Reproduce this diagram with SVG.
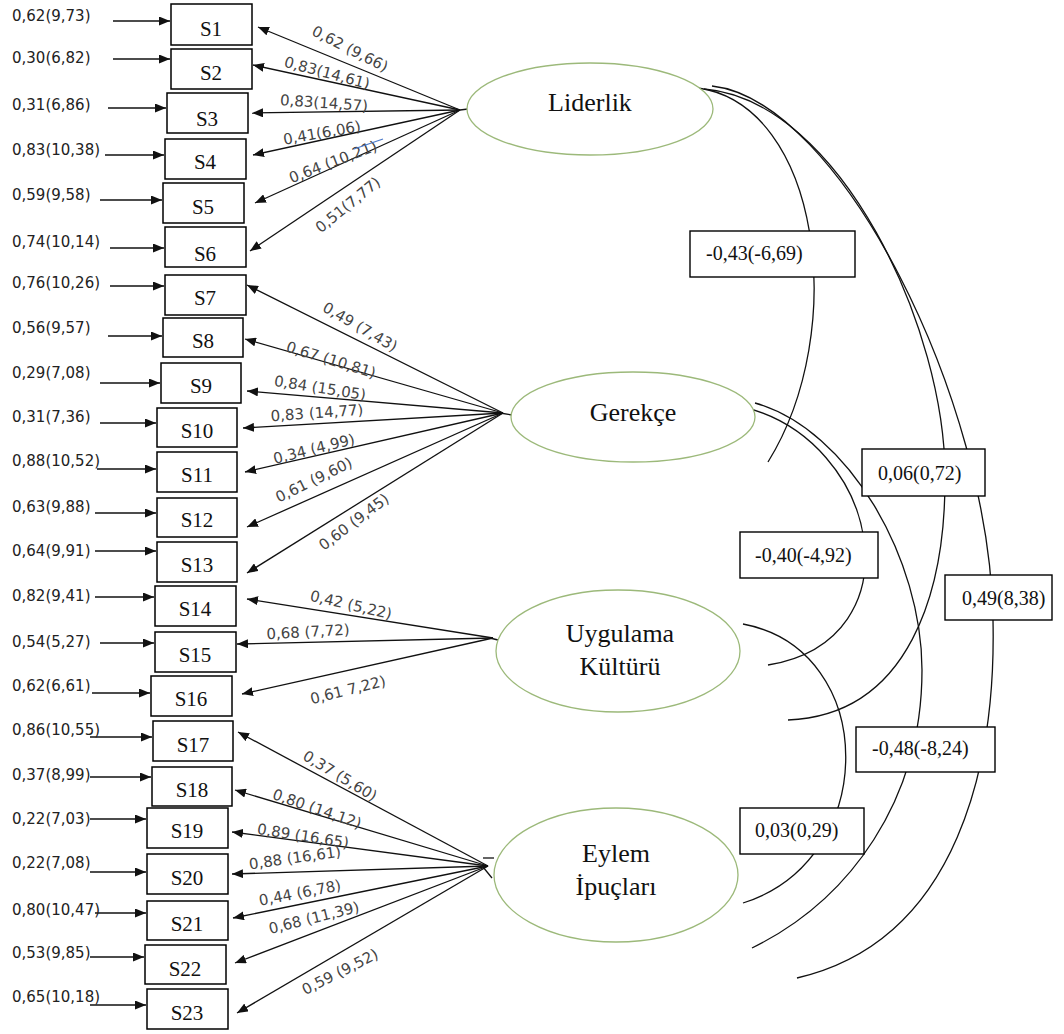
<svg xmlns="http://www.w3.org/2000/svg" width="1064" height="1034" viewBox="0 0 1064 1034">
<defs>
<marker id="ah" markerUnits="userSpaceOnUse" markerWidth="11" markerHeight="9" refX="11" refY="4.5" orient="auto">
<path d="M0,0 L11,4.5 L0,9 z" fill="#111"/>
</marker>
<style>
.box{fill:#fff;stroke:#000;stroke-width:1.5}
.lat{fill:#fff;stroke:#9cb97a;stroke-width:1.3}
.obs{font-family:"Liberation Serif",serif;font-size:21px;text-anchor:middle;fill:#111}
.err{font-family:"DejaVu Sans",sans-serif;font-size:15px;fill:#222}
.ld{font-family:"DejaVu Sans",sans-serif;font-size:15px;fill:#444;text-anchor:middle}
.cov{stroke:#111;fill:none;stroke-width:1.3}
.arr{stroke:#111;stroke-width:1.3;fill:none;marker-end:url(#ah)}
.ln{stroke:#111;stroke-width:1.3;fill:none}
.cbox{fill:#fff;stroke:#000;stroke-width:1.4}
.ctext{font-family:"Liberation Serif",serif;font-size:20px;fill:#111}
.lt{font-family:"Liberation Serif",serif;font-size:26px;text-anchor:middle;fill:#111}
</style>
</defs>
<rect width="1064" height="1034" fill="#fff"/>

<g id="connectors">
<line class="arr" x1="113" y1="21" x2="170" y2="21"/>
<line class="arr" x1="113" y1="59" x2="170" y2="59"/>
<line class="arr" x1="108" y1="108" x2="166" y2="108"/>
<line class="arr" x1="105" y1="155" x2="164" y2="155"/>
<line class="arr" x1="100" y1="200" x2="162" y2="200"/>
<line class="arr" x1="110" y1="248" x2="164" y2="248"/>
<line class="arr" x1="110" y1="286" x2="164" y2="286"/>
<line class="arr" x1="108" y1="336" x2="162" y2="336"/>
<line class="arr" x1="100" y1="383" x2="160" y2="383"/>
<line class="arr" x1="100" y1="423" x2="156" y2="423"/>
<line class="arr" x1="97" y1="469" x2="156" y2="469"/>
<line class="arr" x1="95" y1="513" x2="156" y2="513"/>
<line class="arr" x1="95" y1="551" x2="156" y2="551"/>
<line class="arr" x1="95" y1="597" x2="154" y2="597"/>
<line class="arr" x1="100" y1="643" x2="154" y2="643"/>
<line class="arr" x1="92" y1="693" x2="150" y2="693"/>
<line class="arr" x1="90" y1="737" x2="152" y2="737"/>
<line class="arr" x1="90" y1="777" x2="151" y2="777"/>
<line class="arr" x1="90" y1="819" x2="146" y2="819"/>
<line class="arr" x1="90" y1="872" x2="146" y2="872"/>
<line class="arr" x1="95" y1="913" x2="146" y2="913"/>
<line class="arr" x1="90" y1="957" x2="144" y2="957"/>
<line class="arr" x1="90" y1="1005" x2="146" y2="1005"/>

<g class="err">
<text x="12" y="21">0,62(9,73)</text>
<text x="12" y="63">0,30(6,82)</text>
<text x="12" y="110">0,31(6,86)</text>
<text x="12" y="155">0,83(10,38)</text>
<text x="12" y="200">0,59(9,58)</text>
<text x="12" y="247">0,74(10,14)</text>
<text x="12" y="288">0,76(10,26)</text>
<text x="12" y="333">0,56(9,57)</text>
<text x="12" y="378">0,29(7,08)</text>
<text x="12" y="422">0,31(7,36)</text>
<text x="12" y="466">0,88(10,52)</text>
<text x="12" y="512">0,63(9,88)</text>
<text x="12" y="556">0,64(9,91)</text>
<text x="12" y="601">0,82(9,41)</text>
<text x="12" y="647">0,54(5,27)</text>
<text x="12" y="691">0,62(6,61)</text>
<text x="12" y="735">0,86(10,55)</text>
<text x="12" y="780">0,37(8,99)</text>
<text x="12" y="824">0,22(7,03)</text>
<text x="12" y="868">0,22(7,08)</text>
<text x="12" y="915">0,80(10,47)</text>
<text x="12" y="958">0,53(9,85)</text>
<text x="12" y="1002">0,65(10,18)</text>
</g>

<line class="ln" x1="460" y1="110" x2="468" y2="109"/>
<line class="arr" x1="460" y1="110" x2="258" y2="27"/>
<line class="arr" x1="460" y1="110" x2="253" y2="65"/>
<line class="arr" x1="460" y1="110" x2="252" y2="113"/>
<line class="arr" x1="460" y1="110" x2="253" y2="155"/>
<line class="arr" x1="460" y1="110" x2="255" y2="203"/>
<line class="arr" x1="460" y1="110" x2="250" y2="251"/>
<line class="ln" x1="500" y1="413" x2="512" y2="415"/>
<line class="arr" x1="503" y1="413" x2="247" y2="285"/>
<line class="arr" x1="503" y1="413" x2="245" y2="339"/>
<line class="arr" x1="503" y1="413" x2="247" y2="391"/>
<line class="arr" x1="503" y1="413" x2="243" y2="428"/>
<line class="arr" x1="503" y1="413" x2="245" y2="472"/>
<line class="arr" x1="503" y1="413" x2="247" y2="527"/>
<line class="arr" x1="503" y1="413" x2="247" y2="573"/>
<line class="ln" x1="490" y1="638" x2="498" y2="640"/>
<line class="arr" x1="493" y1="638" x2="247" y2="599"/>
<line class="arr" x1="493" y1="638" x2="237" y2="644"/>
<line class="arr" x1="493" y1="638" x2="242" y2="694"/>
<line class="ln" x1="483" y1="858" x2="494" y2="858"/>
<line class="ln" x1="483" y1="867" x2="492" y2="878"/>
<line class="arr" x1="488" y1="866" x2="238" y2="732"/>
<line class="arr" x1="488" y1="866" x2="235" y2="790"/>
<line class="arr" x1="488" y1="866" x2="232" y2="832"/>
<line class="arr" x1="488" y1="866" x2="232" y2="874"/>
<line class="arr" x1="488" y1="866" x2="233" y2="918"/>
<line class="arr" x1="488" y1="866" x2="235" y2="963"/>
<line class="arr" x1="488" y1="866" x2="237" y2="1013"/>

<g class="ld">
<text transform="translate(350,49) rotate(27)" y="5">0,62 (9,66)</text>
<text transform="translate(327,73) rotate(15)" y="5">0,83(14,61)</text>
<text transform="translate(324,103) rotate(4)" y="5">0,83(14,57)</text>
<text transform="translate(322,133) rotate(-10)" y="5">0,41(6,06)</text>
<text transform="translate(333,162) rotate(-21)" y="5">0,64 (10,21)</text>
<text transform="translate(348,205) rotate(-39)" y="5">0,51(7,77)</text>
<text transform="translate(360,327) rotate(30)" y="5">0,49 (7,43)</text>
<text transform="translate(331,360) rotate(17)" y="5">0,67 (10,81)</text>
<text transform="translate(320,388) rotate(9)" y="5">0,84 (15,05)</text>
<text transform="translate(317,413) rotate(-4)" y="5">0,83 (14,77)</text>
<text transform="translate(314,449) rotate(-14)" y="5">0,34 (4,99)</text>
<text transform="translate(314,480) rotate(-26)" y="5">0,61 (9,60)</text>
<text transform="translate(354,522) rotate(-37)" y="5">0,60 (9,45)</text>
<text transform="translate(351,605) rotate(13)" y="5">0,42 (5,22)</text>
<text transform="translate(308,632) rotate(-3)" y="5">0,68 (7,72)</text>
<text transform="translate(348,690) rotate(-14)" y="5">0,61 7,22)</text>
<text transform="translate(340,776) rotate(31)" y="5">0,37 (5,60)</text>
<text transform="translate(317,809) rotate(19)" y="5">0,80 (14,12)</text>
<text transform="translate(303,836) rotate(9)" y="5">0,89 (16,65)</text>
<text transform="translate(295,858) rotate(-8)" y="5">0,88 (16,61)</text>
<text transform="translate(300,893) rotate(-11)" y="5">0,44 (6,78)</text>
<text transform="translate(314,918) rotate(-14)" y="5">0,68 (11,39)</text>
<text transform="translate(340,972) rotate(-27)" y="5">0,59 (9,52)</text>
</g>
<line x1="354" y1="149" x2="383" y2="139" stroke="#4a78c8" stroke-width="1.2"/>

<path class="cov" d="M698,88 C820,105 850,330 768,462"/>
<path class="cov" d="M704,89 C840,100 947,330 945,480 C945,590 910,715 788,720"/>
<path class="cov" d="M712,86 C840,100 990,400 993,620 C996,760 960,940 797,978"/>
<path class="cov" d="M743,407 C880,440 920,640 768,665"/>
<path class="cov" d="M755,403 C850,430 922,560 922,670 C922,800 850,900 752,948"/>
<path class="cov" d="M743,624 C880,650 880,860 743,903"/>

<rect class="cbox" x="690" y="231" width="165" height="46"/>
<text class="ctext" x="706" y="260">-0,43(-6,69)</text>
<rect class="cbox" x="862" y="449" width="123" height="47"/>
<text class="ctext" x="878" y="480">0,06(0,72)</text>
<rect class="cbox" x="740" y="532" width="138" height="46"/>
<text class="ctext" x="755" y="562">-0,40(-4,92)</text>
<rect class="cbox" x="945" y="575" width="107" height="45"/>
<text class="ctext" x="962" y="605">0,49(8,38)</text>
<rect class="cbox" x="856" y="727" width="139" height="45"/>
<text class="ctext" x="872" y="755">-0,48(-8,24)</text>
<rect class="cbox" x="740" y="808" width="124" height="46"/>
<text class="ctext" x="755" y="837">0,03(0,29)</text>
</g>

<g id="Liderlik"><ellipse class="lat" cx="590" cy="109" rx="123" ry="46"/><text class="lt" x="590" y="111" font-size="27">Liderlik</text></g>
<g id="Gerekce"><ellipse class="lat" cx="633" cy="417" rx="122" ry="45"/><text class="lt" x="633" y="421">Gerekçe</text></g>
<g id="UygulamaKulturu"><ellipse class="lat" cx="618" cy="651" rx="122" ry="61"/><text class="lt" x="620" y="642">Uygulama</text><text class="lt" x="620" y="675">Kültürü</text></g>
<g id="EylemIpuclari"><ellipse class="lat" cx="616" cy="875" rx="122" ry="67"/><text class="lt" x="616" y="862">Eylem</text><text class="lt" x="616" y="895">İpuçları</text></g>

<g id="S1"><rect class="box" x="171" y="4" width="81" height="41"/><text class="obs" x="211" y="36">S1</text></g>
<g id="S2"><rect class="box" x="171" y="49" width="81" height="40"/><text class="obs" x="211" y="80">S2</text></g>
<g id="S3"><rect class="box" x="167" y="93" width="81" height="40"/><text class="obs" x="207" y="126">S3</text></g>
<g id="S4"><rect class="box" x="165" y="139" width="81" height="40"/><text class="obs" x="205" y="169">S4</text></g>
<g id="S5"><rect class="box" x="163" y="183" width="81" height="40"/><text class="obs" x="203" y="214">S5</text></g>
<g id="S6"><rect class="box" x="165" y="227" width="81" height="40"/><text class="obs" x="205" y="261">S6</text></g>
<g id="S7"><rect class="box" x="165" y="275" width="81" height="40"/><text class="obs" x="205" y="305">S7</text></g>
<g id="S8"><rect class="box" x="163" y="318" width="80" height="39"/><text class="obs" x="203" y="348">S8</text></g>
<g id="S9"><rect class="box" x="161" y="363" width="80" height="40"/><text class="obs" x="201" y="393">S9</text></g>
<g id="S10"><rect class="box" x="157" y="408" width="80" height="39"/><text class="obs" x="197" y="438">S10</text></g>
<g id="S11"><rect class="box" x="157" y="452" width="80" height="40"/><text class="obs" x="197" y="482">S11</text></g>
<g id="S12"><rect class="box" x="157" y="498" width="80" height="39"/><text class="obs" x="197" y="527">S12</text></g>
<g id="S13"><rect class="box" x="157" y="542" width="80" height="40"/><text class="obs" x="197" y="572">S13</text></g>
<g id="S14"><rect class="box" x="155" y="586" width="81" height="40"/><text class="obs" x="195" y="616">S14</text></g>
<g id="S15"><rect class="box" x="155" y="632" width="81" height="40"/><text class="obs" x="195" y="662">S15</text></g>
<g id="S16"><rect class="box" x="151" y="676" width="81" height="40"/><text class="obs" x="191" y="706">S16</text></g>
<g id="S17"><rect class="box" x="153" y="721" width="80" height="40"/><text class="obs" x="193" y="752">S17</text></g>
<g id="S18"><rect class="box" x="152" y="767" width="80" height="39"/><text class="obs" x="192" y="797">S18</text></g>
<g id="S19"><rect class="box" x="147" y="808" width="81" height="40"/><text class="obs" x="187" y="838">S19</text></g>
<g id="S20"><rect class="box" x="147" y="854" width="81" height="40"/><text class="obs" x="187" y="885">S20</text></g>
<g id="S21"><rect class="box" x="147" y="901" width="81" height="39"/><text class="obs" x="187" y="931">S21</text></g>
<g id="S22"><rect class="box" x="145" y="945" width="81" height="39"/><text class="obs" x="185" y="976">S22</text></g>
<g id="S23"><rect class="box" x="147" y="989" width="81" height="40"/><text class="obs" x="187" y="1020">S23</text></g>
</svg>
